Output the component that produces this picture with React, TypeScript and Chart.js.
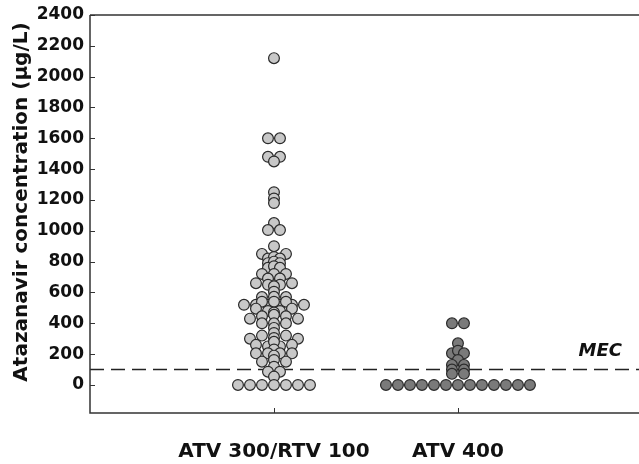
import React, { useEffect, useRef } from "react";
import { Chart, registerables } from "chart.js";

Chart.register(...registerables);

// ---- data ----
const categories = ["ATV 300/RTV 100", "ATV 400"];
const yTickValues = [0, 200, 400, 600, 800, 1000, 1200, 1400, 1600, 1800, 2000, 2200, 2400];
const mecValue = 100;
const mecLabel = "MEC";
const yTitle = "Atazanavir concentration (\u03bcg/L)";

// beeswarm slot (half-dot steps from the group centre) and concentration, ATV 300/RTV 100
const rtvSlots = [
  0,
  -1, 1,
  -1, 1, 0,
  0, 0, 0,
  0, -1, 1,
  0,
  -2, 2,
  -1, 0, 1,
  -1, 0, 1,
  -1, 0, 1,
  -2, 0, 2,
  -1, 1,
  -3, -1, 1, 3,
  0,
  0, 0, -2, 2,
  -5, -3, -1, 1, 3, 5,
  -2, 0, 2,
  -3, -1, 1, 3, 0,
  -4, 4,
  -2, 0, 2,
  -2, 0, 2,
  0, 0, 0,
  -4, 4, -2, 2,
  -3, 3, -1, 1,
  0, 0,
  -3, -1, 1, 3,
  0,
  -2, 2, 0,
  0,
  -1, 1,
  0,
  -6, -4, -2, 0, 2, 4, 6,
];
const rtvValues = [
  2120,
  1600, 1600,
  1480, 1480, 1450,
  1250, 1210, 1180,
  1050, 1005, 1005,
  900,
  850, 850,
  820, 830, 820,
  790, 800, 790,
  760, 770, 760,
  720, 720, 720,
  690, 690,
  660, 650, 650, 660,
  640,
  605, 572, 570, 570,
  520, 520, 520, 520, 520, 520,
  540, 540, 540,
  495, 480, 480, 495, 470,
  430, 430,
  445, 455, 445,
  400, 400, 400,
  370, 337, 305,
  300, 300, 320, 320,
  260, 260, 250, 250,
  280, 230,
  205, 205, 205, 205,
  190,
  151, 151, 162,
  118,
  86, 86,
  54,
  0, 0, 0, 0, 0, 0, 0,
];

// ATV 400
const atvSlots = [
  -1, 1,
  0,
  -1, 0, 1,
  0,
  -1, 1, -1, 1, -1, 1,
  -12, -10, -8, -6, -4, -2, 0, 2, 4, 6, 8, 10, 12,
];
const atvValues = [
  400, 400,
  270,
  205, 222, 205,
  162,
  130, 130, 100, 100, 72, 72,
  0, 0, 0, 0, 0, 0, 0, 0, 0, 0, 0, 0, 0,
];

const SLOT = 6 / 184; // half a dot, in category units

function toPoints(center: number, slots: number[], values: number[]) {
  return values.map((v, i) => ({ x: center + slots[i] * SLOT, y: v }));
}

const FONT = "'DejaVu Sans', 'Open Sans', sans-serif";

const framePlugin = {
  id: "frame",
  afterDraw(chart: any) {
    const { ctx, chartArea: a, scales } = chart;
    const xs = scales.x;
    const ys = scales.y;
    ctx.save();
    ctx.strokeStyle = "#333";
    ctx.lineWidth = 1.5;
    ctx.beginPath();
    ctx.moveTo(a.left, a.top);
    ctx.lineTo(a.right, a.top);
    ctx.moveTo(a.left, a.top);
    ctx.lineTo(a.left, a.bottom);
    ctx.lineTo(a.right, a.bottom);
    ctx.stroke();
    ctx.lineWidth = 1;
    ctx.beginPath();
    yTickValues.forEach((v) => {
      const y = Math.round(ys.getPixelForValue(v)) + 0.5;
      ctx.moveTo(a.left, y);
      ctx.lineTo(a.left + 5, y);
    });
    categories.forEach((_, i) => {
      const x = Math.round(xs.getPixelForValue(i + 1)) + 0.5;
      ctx.moveTo(x, a.bottom);
      ctx.lineTo(x, a.bottom - 5);
    });
    ctx.stroke();
    ctx.fillStyle = "#111";
    ctx.font = `italic bold 18px ${FONT}`;
    ctx.textAlign = "right";
    ctx.textBaseline = "alphabetic";
    ctx.fillText(mecLabel, a.right - 17, ys.getPixelForValue(mecValue) - 14);
    // y-axis title
    ctx.translate(22, (a.top + a.bottom) / 2 - 12);
    ctx.rotate(-Math.PI / 2);
    ctx.font = `bold 20px ${FONT}`;
    ctx.textAlign = "center";
    ctx.textBaseline = "middle";
    ctx.fillText(yTitle, 0, 0);
    ctx.restore();
  },
};

export default function App() {
  const ref = useRef<HTMLCanvasElement>(null);
  useEffect(() => {
    document.body.style.margin = "0";
    const canvas = ref.current;
    if (!canvas) return;
    const chart = new Chart(canvas, {
      type: "scatter",
      data: {
        datasets: [
          {
            type: "line",
            label: mecLabel,
            data: [
              { x: 0, y: mecValue },
              { x: 3, y: mecValue },
            ],
            borderColor: "#222",
            borderWidth: 1.5,
            borderDash: [14, 7],
            pointRadius: 0,
            order: 3,
          } as any,
          {
            label: categories[0],
            data: toPoints(1, rtvSlots, rtvValues),
            backgroundColor: "#c8c8c8",
            borderColor: "#2a2a2a",
            borderWidth: 1.2,
            pointRadius: 5.4,
            order: 2,
          },
          {
            label: categories[1],
            data: toPoints(2, atvSlots, atvValues),
            backgroundColor: "#7a7a7a",
            borderColor: "#2a2a2a",
            borderWidth: 1.2,
            pointRadius: 5.4,
            order: 1,
          },
        ],
      },
      options: {
        responsive: false,
        animation: false,
        layout: { autoPadding: false, padding: { top: 15, right: 0, left: 0, bottom: 0 } },
        plugins: { legend: { display: false }, tooltip: { enabled: false } },
        scales: {
          x: {
            type: "linear",
            min: 0,
            max: 2.984,
            border: { display: false },
            grid: { display: false, drawTicks: false },
            afterBuildTicks: (s: any) => {
              s.ticks = categories.map((_, i) => ({ value: i + 1 }));
            },
            afterFit: (s: any) => {
              s.height = 51;
              s.paddingLeft = 0;
              s.paddingRight = 0;
            },
            ticks: {
              autoSkip: false,
              maxRotation: 0,
              padding: 27,
              color: "#111",
              font: { family: FONT, size: 20, weight: "bold" },
              callback: (v: any) => categories[Math.round(Number(v)) - 1] ?? "",
            },
          },
          y: {
            min: -182,
            max: 2400,
            border: { display: false },
            grid: { display: false, drawTicks: false },
            afterBuildTicks: (s: any) => {
              s.ticks = yTickValues.map((v) => ({ value: v }));
            },
            afterFit: (s: any) => {
              s.width = 90;
              s.paddingTop = 0;
              s.paddingBottom = 0;
            },
            ticks: {
              padding: 6,
              color: "#111",
              font: { family: FONT, size: 17, weight: "bold" },
              callback: (v: any) => String(v),
            },
          },
        },
      },
      plugins: [framePlugin],
    });
    return () => chart.destroy();
  }, []);
  return (
    <div style={{ width: 639, height: 464, background: "#fff" }}>
      <canvas ref={ref} width={639} height={464} style={{ width: 639, height: 464, display: "block" }} />
    </div>
  );
}
